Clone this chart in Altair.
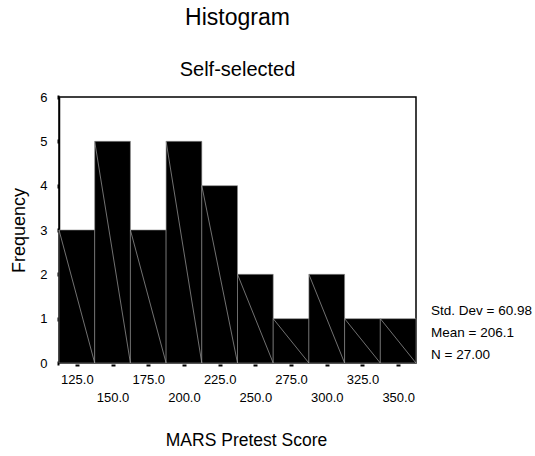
import altair as alt
import pandas as pd

# ---- data ----
bin_centers = [125, 150, 175, 200, 225, 250, 275, 300, 325, 350]
counts = [3, 5, 3, 5, 4, 2, 1, 2, 1, 1]
bin_width = 25
x_ticks_row1 = [125, 175, 225, 275, 325]
x_ticks_row2 = [150, 200, 250, 300, 350]
y_ticks = [0, 1, 2, 3, 4, 5, 6]
stat_labels = ["Std. Dev = 60.98", "Mean = 206.1", "N = 27.00"]

FONT = "Liberation Sans"

df = pd.DataFrame({"center": bin_centers, "count": counts})

base = alt.Chart(df).transform_calculate(
    start=f"datum.center - {bin_width / 2}",
    end=f"datum.center + {bin_width / 2}",
    zero="0",
)

x_scale = alt.Scale(domain=[bin_centers[0] - bin_width / 2, bin_centers[-1] + bin_width / 2],
                    nice=False, zero=False)
y_scale = alt.Scale(domain=[0, 6], nice=False)

common_x = dict(
    orient="bottom",
    format=".1f",
    domain=False,
    grid=False,
    tickColor="black",
    tickSize=2,
    tickWidth=4,
    offset=1,
    labelFontSize=13,
    labelFont=FONT,
    labelColor="black",
    labelFlush=False,
    labelOverlap=False,
)

x_axis1 = alt.Axis(values=x_ticks_row1 + x_ticks_row2, labelExpr=
                   "(datum.value % 50 == 0) ? '' : format(datum.value, '.1f')",
                   labelPadding=7, title=None, **common_x)

x_axis2 = alt.Axis(values=x_ticks_row2, ticks=False, labelPadding=27,
                   title="MARS Pretest Score", titleFont=FONT, titleFontSize=17.5,
                   titleFontWeight="normal", titleColor="black", titlePadding=27,
                   titleX=187, **common_x)

y_axis = alt.Axis(
    values=y_ticks,
    format="d",
    domain=True,
    domainColor="black",
    domainWidth=1.5,
    grid=False,
    tickColor="black",
    tickSize=2,
    tickWidth=4,
    labelPadding=10,
    labelFontSize=13,
    labelFont=FONT,
    labelColor="black",
    title="Frequency",
    titleFont=FONT,
    titleFontSize=18,
    titleFontWeight="normal",
    titleColor="black",
    titlePadding=11,
)

bars = base.mark_rect(fill="black", stroke="#8a8a8a", strokeWidth=0.6).encode(
    x=alt.X("start:Q", scale=x_scale, axis=x_axis1),
    x2="end:Q",
    y=alt.Y("count:Q", scale=y_scale, axis=y_axis),
    y2="zero:Q",
)

diagonals = base.mark_rule(color="#a0a0a0", strokeWidth=0.7).encode(
    x=alt.X("start:Q", scale=x_scale, axis=x_axis2),
    x2="end:Q",
    y=alt.Y("count:Q", scale=y_scale, axis=y_axis),
    y2="zero:Q",
)

stat_y = [214, 236, 258]
stat_layers = []
for lab, yy in zip(stat_labels, stat_y):
    stat_layers.append(
        alt.Chart(pd.DataFrame({"label": [lab]})).mark_text(
            align="left", baseline="middle", fontSize=13.5, font=FONT, color="black"
        ).encode(text="label:N", x=alt.value(372), y=alt.value(yy))
    )

chart = alt.layer(bars, diagonals, *stat_layers).resolve_axis(
    x="independent", y="shared"
).properties(
    width=357,
    height=266,
    background="white",
    autosize=alt.AutoSizeParams(type="none"),
    padding={"left": 59, "top": 97, "right": 119, "bottom": 93},
    title=alt.TitleParams(
        text="Histogram",
        subtitle="Self-selected",
        font=FONT,
        subtitleFont=FONT,
        fontSize=23,
        subtitleFontSize=20,
        fontWeight="normal",
        color="black",
        subtitleColor="black",
        anchor="middle",
        offset=11.5,
        subtitlePadding=29.5,
    ),
).configure_view(
    stroke="black", strokeWidth=1.5
)

chart.save("out.html", embed_options={"renderer": "svg", "actions": False})
